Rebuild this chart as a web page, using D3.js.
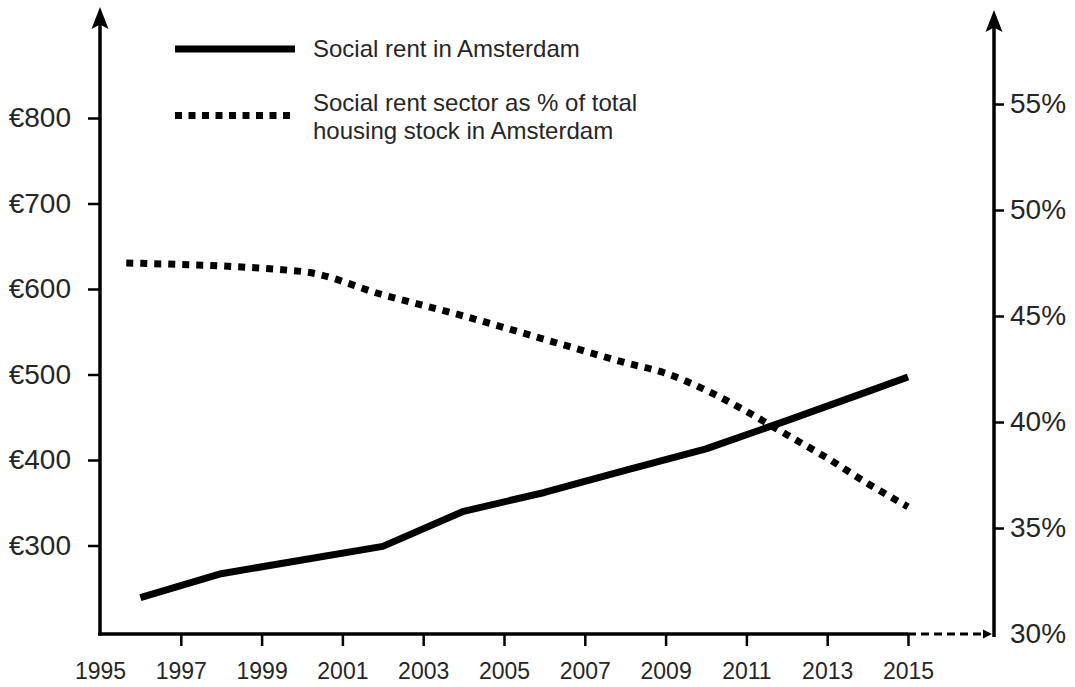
<!DOCTYPE html>
<html>
<head>
<meta charset="utf-8">
<script src="https://cdn.jsdelivr.net/npm/d3@7"></script>
<style>
  html, body { margin: 0; padding: 0; background: #fff; }
  svg { display: block; }
  text { font-family: "Liberation Sans", Arial, Helvetica, sans-serif; fill: #262626; }
</style>
</head>
<body>
<svg id="chart" width="1075" height="687"></svg>
<script>
// ---- data ----
const rentYears   = [1996, 1998, 2000, 2002, 2004, 2006, 2008, 2010, 2012, 2014, 2015];
const rentValues  = [239, 267, 283, 299, 340, 362, 388, 413, 446, 480, 497];

const shareYears  = [1995.65, 2000, 2002, 2004, 2006, 2008, 2009, 2010, 2011, 2012, 2013, 2014, 2015];
const shareValues = [47.5, 47.1, 46.0, 45.0, 43.9, 42.8, 42.3, 41.5, 40.5, 39.4, 38.3, 37.1, 36.0];

const xTickLabels     = [1995, 1997, 1999, 2001, 2003, 2005, 2007, 2009, 2011, 2013, 2015];
const leftTickValues  = [300, 400, 500, 600, 700, 800];
const rightTickValues = [30, 35, 40, 45, 50, 55];

const legendLabels = ["Social rent in Amsterdam",
                      ["Social rent sector as % of total", "housing stock in Amsterdam"]];

// ---- scales ----
const svg = d3.select("#chart");
const x  = d3.scaleLinear().domain([1995, 2015]).range([100, 908]);
const yL = d3.scaleLinear().domain([300, 800]).range([545.5, 118]);
const yR = d3.scaleLinear().domain([30, 55]).range([634, 104]);

const axisY = 634, leftX = 100, rightX = 994;
const ink = "#000";

// arrowhead helper (points up, tip at (cx, tipY))
function arrowUp(cx, tipY, w, h) {
  return `M${cx},${tipY} L${cx + w/2},${tipY + h} L${cx},${tipY + h*0.8} L${cx - w/2},${tipY + h} Z`;
}

// ---- left axis ----
svg.append("line").attr("x1", leftX).attr("x2", leftX).attr("y1", axisY + 1.5).attr("y2", 18)
  .attr("stroke", ink).attr("stroke-width", 3.5);
svg.append("path").attr("d", arrowUp(leftX, 7, 17, 22)).attr("fill", ink);

const gL = svg.append("g").attr("transform", `translate(${leftX},0)`)
  .call(d3.axisLeft(yL).tickValues(leftTickValues).tickSize(12).tickPadding(17)
        .tickFormat(d => "€" + d));
gL.select(".domain").remove();
gL.selectAll(".tick line").attr("stroke", ink).attr("stroke-width", 2.5);
gL.selectAll(".tick text").style("font-size", "28px").attr("fill", "#262626")
  .style("font-family", "'Liberation Sans', Arial, sans-serif");

// ---- right axis ----
svg.append("line").attr("x1", rightX).attr("x2", rightX).attr("y1", axisY + 3).attr("y2", 20)
  .attr("stroke", ink).attr("stroke-width", 3.5);
svg.append("path").attr("d", arrowUp(rightX, 10, 17, 22)).attr("fill", ink);

const gR = svg.append("g").attr("transform", `translate(${rightX},0)`)
  .call(d3.axisRight(yR).tickValues(rightTickValues).tickSize(10).tickPadding(6)
        .tickFormat(d => d + "%"));
gR.select(".domain").remove();
gR.selectAll(".tick line").attr("stroke", ink).attr("stroke-width", 2.5)
  .attr("opacity", d => d === 30 ? 0 : 1);
gR.selectAll(".tick text").style("font-size", "28px").attr("fill", "#262626")
  .style("font-family", "'Liberation Sans', Arial, sans-serif");

// ---- bottom axis ----
svg.append("line").attr("x1", leftX - 1.75).attr("x2", x(2015)).attr("y1", axisY).attr("y2", axisY)
  .attr("stroke", ink).attr("stroke-width", 3.5);
svg.append("line").attr("x1", x(2015)).attr("x2", rightX - 8).attr("y1", axisY).attr("y2", axisY)
  .attr("stroke", ink).attr("stroke-width", 3).attr("stroke-dasharray", "8,5");
svg.append("path")
  .attr("d", `M${rightX - 2},${axisY} L${rightX - 11},${axisY - 4.5} L${rightX - 11},${axisY + 4.5} Z`)
  .attr("fill", ink);

const gB = svg.append("g").attr("transform", `translate(0,${axisY})`)
  .call(d3.axisBottom(x).tickValues(xTickLabels).tickSize(12).tickPadding(17)
        .tickFormat(d3.format("d")));
gB.select(".domain").remove();
gB.selectAll(".tick line").attr("stroke", ink).attr("stroke-width", 2.5)
  .attr("opacity", d => d === 1995 ? 0 : 1);
gB.selectAll(".tick text").style("font-size", "23px").attr("fill", "#262626")
  .style("font-family", "'Liberation Sans', Arial, sans-serif");

// ---- lines ----
const rentData  = rentYears.map((yr, i) => ({ yr, v: rentValues[i] }));
const shareData = shareYears.map((yr, i) => ({ yr, v: shareValues[i] }));

svg.append("path").datum(shareData)
  .attr("fill", "none").attr("stroke", ink).attr("stroke-width", 7)
  .attr("stroke-dasharray", "7,7").attr("stroke-linejoin", "miter")
  .attr("d", d3.line().x(d => x(d.yr)).y(d => yR(d.v)).curve(d3.curveMonotoneX));

svg.append("path").datum(rentData)
  .attr("fill", "none").attr("stroke", ink).attr("stroke-width", 7)
  .attr("stroke-linejoin", "round")
  .attr("d", d3.line().x(d => x(d.yr)).y(d => yL(d.v)));

// ---- legend ----
const leg = svg.append("g");
leg.append("line").attr("x1", 175).attr("x2", 295).attr("y1", 49).attr("y2", 49)
  .attr("stroke", ink).attr("stroke-width", 7);
leg.append("text").attr("x", 313).attr("y", 57).style("font-size", "24px").text(legendLabels[0]);

leg.append("line").attr("x1", 175).attr("x2", 295).attr("y1", 115.5).attr("y2", 115.5)
  .attr("stroke", ink).attr("stroke-width", 7).attr("stroke-dasharray", "7,6.5");
const t2 = leg.append("text").attr("x", 313).attr("y", 111).style("font-size", "24px");
t2.append("tspan").attr("x", 313).attr("dy", 0).text(legendLabels[1][0]);
t2.append("tspan").attr("x", 313).attr("dy", 28).text(legendLabels[1][1]);
</script>
</body>
</html>
